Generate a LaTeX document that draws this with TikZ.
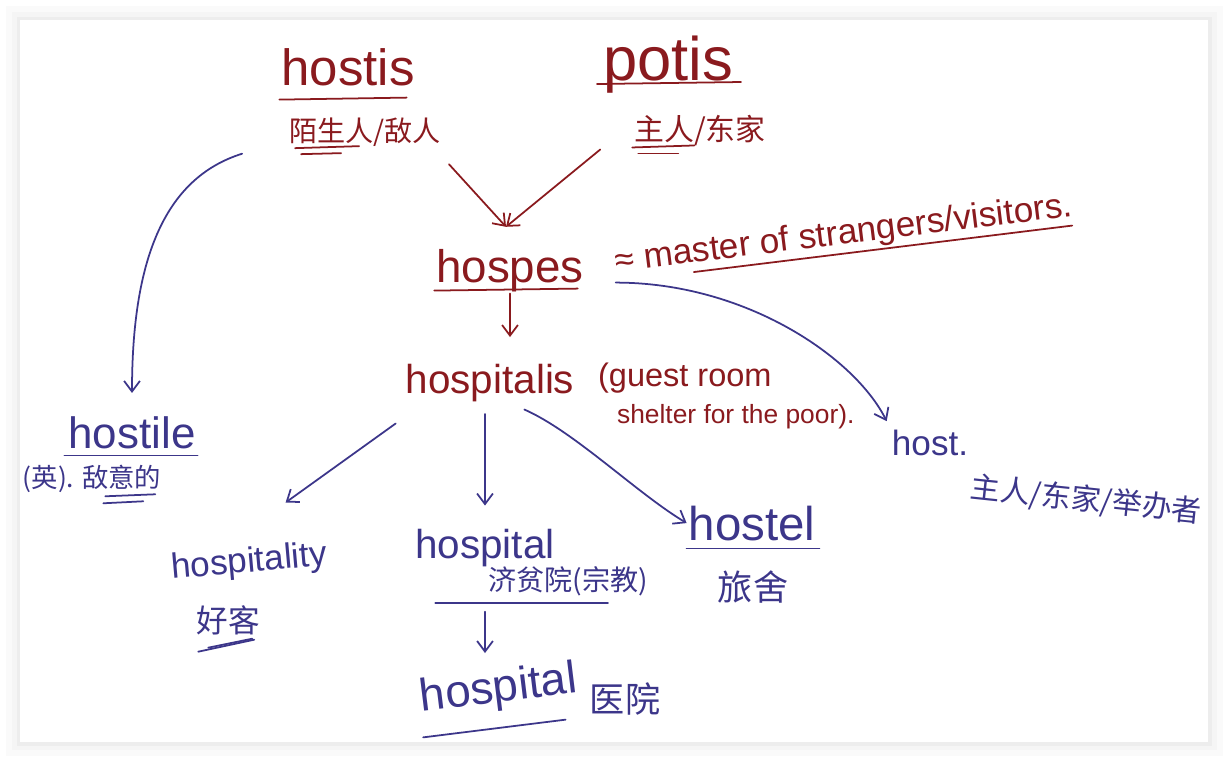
\documentclass[tikz,border=0pt]{standalone}
\usepackage{fontspec}
\setmainfont{Liberation Sans}
\newfontfamily\cjk{Noto Sans CJK SC}
\usepackage{xcolor}
\usetikzlibrary{arrows.meta,calc}
\definecolor{inkred}{RGB}{138,26,30}
\definecolor{inkblue}{RGB}{60,54,138}

\begin{document}
\begin{tikzpicture}[
  x=0.02cm, y=-0.02cm, >={Straight Barb[length=6pt,width=9pt]},
  wd/.style={font=\fontsize{#1}{#1}\selectfont, anchor=base, inner sep=1pt},
  zh/.style={font=\cjk\fontsize{#1}{#1}\selectfont, anchor=base, inner sep=1pt},
  rd/.style={text=inkred},
  bl/.style={text=inkblue},
  arr/.style={->, line width=1pt, line cap=round},
  uln/.style={line width=1pt, line cap=round}
]
% ---------------- card
\useasboundingbox (0,0) rectangle (1229,762);
\fill[black!2] (6,6) rectangle (1223,756);
\fill[black!4] (12,12) rectangle (1217,750);
\fill[black!7] (17,17) rectangle (1212,746);
\fill[white] (20,20) rectangle (1208,742);
% ---------------- roots
\node[wd=29pt, rd] (hostis) at (348,85) {hostis};
\node[zh=16pt, rd] (hostiscn) at (365,141) {陌生人/敌人};
\node[wd=35pt, rd] (potis) at (668,80) {potis};
\node[zh=17pt, rd] (potiscn) at (700,140) {主人/东家};
% ---------------- hospes
\node[wd=26pt, rd] (hospes) at (510,282) {hospes};
\node[wd=20pt, rd, rotate=7] (master) at (845,244) {≈ master of strangers/visitors.};
% ---------------- hospitalis
\node[wd=23pt, rd] (hospitalis) at (490,393) {hospitalis};
\node[wd=18.5pt, rd, anchor=base west] (guest) at (596,386) {(guest room};
\node[wd=15pt, rd, anchor=base west] (shelter) at (615,423) {shelter for the poor).};
% ---------------- derived words
\node[wd=25pt, bl] (hostile) at (132,448) {hostile};
\node[zh=15pt, bl] (hostilecn) at (92,487) {(英). 敌意的};
\node[wd=20pt, bl, rotate=5] (hospitality) at (250,572) {hospitality};
\node[zh=18pt, bl] (hospitalitycn) at (228,632) {好客};
\node[wd=23pt, bl] (hospital) at (485,558) {hospital};
\node[zh=16pt, bl] (hospitalcn) at (568,590) {济贫院(宗教)};
\node[wd=26pt, bl, rotate=7] (hospitaltwo) at (500,702) {hospital};
\node[zh=20pt, bl] (hospitaltwocn) at (625,712) {医院};
\node[wd=27pt, bl] (hostel) at (752,540) {hostel};
\node[zh=20pt, bl] (hostelcn) at (753,600) {旅舍};
\node[wd=20pt, bl] (host) at (930,455) {host.};
\node[zh=17pt, bl, rotate=-6] (hostcn) at (1085,510) {主人/东家/举办者};
% ---------------- underlines
\draw[uln, inkred] ($(hostis.south west)+(0,12)$) -- ($(hostis.south east)+(-10,10)$);
\draw[uln, inkred] ($(hostiscn.south west)+(8,0)$) -- ++(64,-2);
\draw[uln, inkred] ($(hostiscn.south west)+(14,6)$) -- ++(40,-1);
\draw[uln, inkred] ($(potis.base west)+(-4,4)$) -- ($(potis.base east)+(6,2)$);
\draw[uln, inkred] (potiscn.south west) -- ++(62,-2);
\draw[uln, inkred] ($(potiscn.south west)+(6,6)$) -- ++(40,0);
\draw[uln, inkred] ($(hospes.south west)+(0,-3)$) -- ($(hospes.south east)+(-8,-5)$);
\draw[uln, inkred] ($(master.south west)!0.17!(master.south east)$) -- ($(master.south west)!0.99!(master.south east)$);
\draw[uln, inkblue] ($(hostile.south west)+(-2,5)$) -- ($(hostile.south east)+(0,5)$);
\draw[uln, inkblue] ($(hostilecn.south east)+(-58,2)$) -- ++(50,-2);
\draw[uln, inkblue] ($(hostilecn.south east)+(-60,9)$) -- ++(40,-2);
\draw[uln, inkblue] ($(hospitalitycn.south west)+(4,15)$) -- ++(56,-12);
\draw[uln, inkblue] ($(hospitalitycn.south west)+(14,11)$) -- ++(44,-9);
\draw[uln, inkblue] ($(hospital.west |- hospitalcn.south)+(22,5)$) -- ($(hospitalcn.south east)+(-42,5)$);
\draw[uln, inkblue] ($(hospitaltwo.south west)+(2,14)$) -- ($(hospitaltwo.south west)!0.9!(hospitaltwo.south east)+(0,14)$);
\draw[uln, inkblue] ($(hostel.south west)+(0,6)$) -- ($(hostel.south east)+(2,6)$);
% ---------------- edges
\coordinate (meet) at ($(hospes.north)+(-4,-20)$);
\draw[arr, inkred] ($(hostiscn.south east)+(6,16)$) -- (meet);
\draw[arr, inkred] ($(potiscn.south west)+(-32,2)$) -- (meet);
\draw[arr, inkred, shorten >=14pt] (hospes.south) -- (hospes.south |- hospitalis.north);
\draw[arr, inkblue, shorten >=12pt] ($(hostiscn.west)+(-45,22)$) .. controls +(-80,25) and +(0,-150) .. (hostile.north);
\draw[arr, inkblue] ($(hospitalis.south west)+(-8,20)$) -- ($(hospitality.north)+(38,-42)$);
\draw[arr, inkblue, shorten <=6pt, shorten >=12pt] (hospitalis.south -| hospital.north) -- (hospital.north);
\draw[arr, inkblue] ($(hospitalis.south east)+(-52,6)$) .. controls +(50,22) and +(-50,-30) .. (hostel.west);
\draw[arr, inkblue, shorten <=8pt, shorten >=8pt] (hospital.south |- hospitalcn.south) -- (hospital.south |- hospitaltwo.north);
\draw[arr, inkblue, shorten >=4pt] ($(hospes.south east)+(30,-11)$) .. controls +(130,0) and +(-35,-70) .. (host.north west);
\end{tikzpicture}
\end{document}
